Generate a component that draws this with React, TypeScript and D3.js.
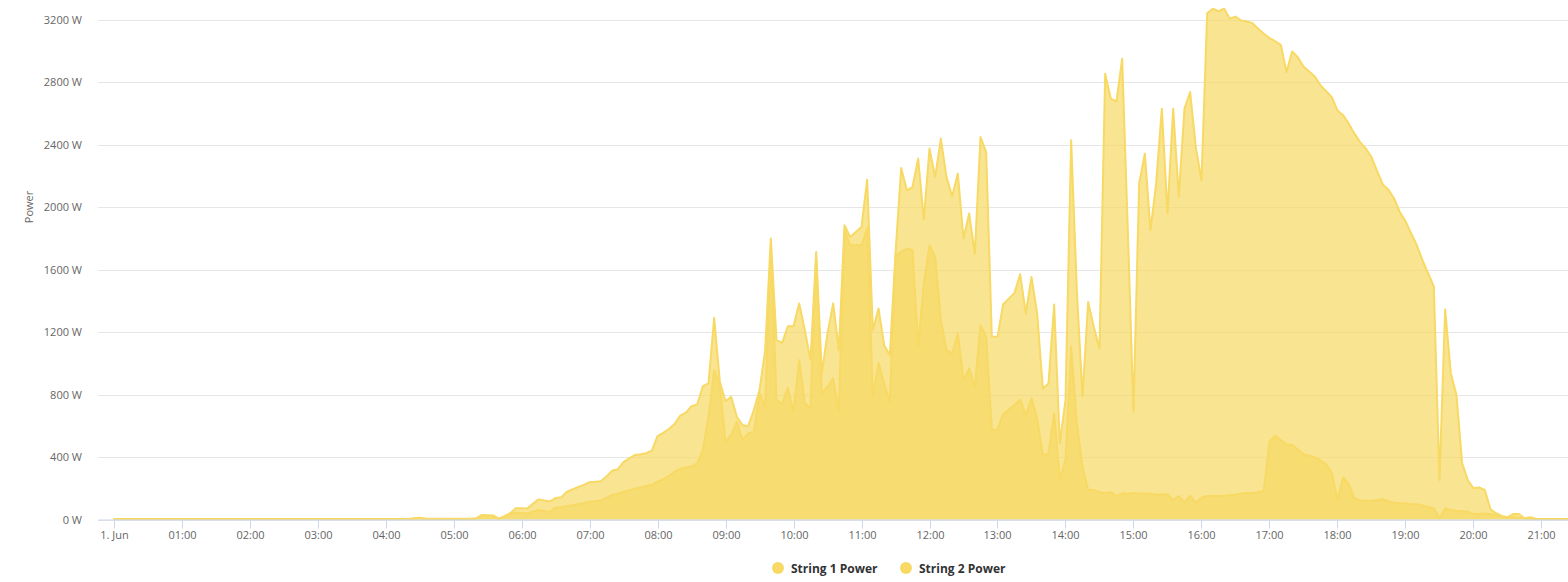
import { useMemo } from "react";
import * as d3 from "d3";

// sample times (local, 1 Jun)
const times = [
  "00:00", "02:00", "04:00", "04:20", "04:25", "04:30", "04:35", "04:40", "05:00", "05:15",
  "05:20", "05:25", "05:30", "05:35", "05:40", "05:45", "05:50", "05:55",
  "06:00", "06:05", "06:10", "06:15", "06:20", "06:25", "06:30", "06:35", "06:40", "06:45", "06:50", "06:55",
  "07:00", "07:05", "07:10", "07:15", "07:20", "07:25", "07:30", "07:35", "07:40", "07:45", "07:50", "07:55",
  "08:00", "08:05", "08:10", "08:15", "08:20", "08:25", "08:30", "08:35", "08:40", "08:45", "08:50", "08:55",
  "09:00", "09:05", "09:10", "09:15", "09:20", "09:25", "09:30", "09:35", "09:40", "09:45", "09:50", "09:55",
  "10:00", "10:05", "10:10", "10:15", "10:20", "10:25", "10:30", "10:35", "10:40", "10:45", "10:50", "10:55",
  "11:00", "11:05", "11:10", "11:15", "11:20", "11:25", "11:30", "11:35", "11:40", "11:45", "11:50", "11:55",
  "12:00", "12:05", "12:10", "12:15", "12:20", "12:25", "12:30", "12:35", "12:40", "12:45", "12:50", "12:55",
  "13:00", "13:05", "13:10", "13:15", "13:20", "13:25", "13:30", "13:35", "13:40", "13:45", "13:50", "13:55",
  "14:00", "14:05", "14:10", "14:15", "14:20", "14:25", "14:30", "14:35", "14:40", "14:45", "14:50", "14:55",
  "15:00", "15:05", "15:10", "15:15", "15:20", "15:25", "15:30", "15:35", "15:40", "15:45", "15:50", "15:55",
  "16:00", "16:05", "16:10", "16:15", "16:20", "16:25", "16:30", "16:35", "16:40", "16:45", "16:50", "16:55",
  "17:00", "17:05", "17:10", "17:15", "17:20", "17:25", "17:30", "17:35", "17:40", "17:45", "17:50", "17:55",
  "18:00", "18:05", "18:10", "18:15", "18:20", "18:25", "18:30", "18:35", "18:40", "18:45", "18:50", "18:55",
  "19:00", "19:05", "19:10", "19:15", "19:20", "19:25", "19:30", "19:35", "19:40", "19:45", "19:50", "19:55",
  "20:00", "20:05", "20:10", "20:15", "20:20", "20:25", "20:30", "20:35", "20:40", "20:45", "20:50", "20:55",
  "21:00", "21:05", "21:10", "21:15", "21:20", "21:25",
];

// String 1 power (W)
const string1 = [
  4, 4, 4, 4, 8, 12, 6, 5, 5, 5,
  8, 29, 28, 26, 5, 22, 40, 72,
  72, 70, 100, 129, 122, 116, 137, 142, 178, 192, 208, 222,
  240, 242, 245, 275, 312, 322, 368, 392, 413, 418, 425, 441,
  534, 555, 580, 611, 665, 684, 726, 737, 854, 872, 1292, 882,
  758, 786, 658, 605, 598, 701, 829, 1085, 1800, 1149, 1132, 1238,
  1238, 1384, 1213, 1021, 1714, 936, 1192, 1384, 1085, 1885, 1810, 1842,
  1874, 2177, 1213, 1352, 1117, 1053, 1704, 2252, 2109, 2130, 2312, 1923,
  2376, 2194, 2440, 2194, 2070, 2216, 1800, 1960, 1704, 2450, 2354, 1170,
  1170, 1379, 1415, 1452, 1571, 1320, 1554, 1320, 840, 872, 1377, 488,
  765, 2429, 1469, 786, 1394, 1234, 1096, 2856, 2696, 2678, 2952, 1850,
  690, 2152, 2344, 1853, 2152, 2632, 1960, 2632, 2070, 2632, 2738, 2386,
  2173, 3243, 3272, 3256, 3272, 3208, 3222, 3197, 3190, 3180, 3144, 3112,
  3084, 3064, 3041, 2866, 2998, 2962, 2902, 2870, 2838, 2781, 2744, 2706,
  2621, 2589, 2536, 2472, 2418, 2376, 2322, 2232, 2147, 2113, 2056, 1970,
  1912, 1832, 1757, 1661, 1576, 1494, 253, 1345, 936, 797, 360, 253,
  200, 205, 189, 65, 40, 23, 14, 35, 35, 8, 14, 5,
  4, 4, 4, 4, 4, 4,
];

// String 2 power (W)
const string2 = [
  3, 3, 3, 3, 5, 8, 4, 3, 3, 3,
  5, 20, 22, 20, 4, 18, 32, 44,
  42, 38, 50, 61, 55, 50, 76, 80, 87, 92, 98, 105,
  114, 117, 121, 138, 157, 165, 178, 188, 197, 205, 215, 222,
  242, 258, 280, 306, 325, 334, 339, 360, 445, 658, 957, 860,
  498, 541, 626, 509, 552, 560, 808, 722, 1760, 765, 743, 843,
  690, 1021, 744, 712, 1680, 808, 850, 904, 690, 1853, 1757, 1757,
  1757, 1864, 786, 1004, 872, 754, 1690, 1714, 1736, 1725, 1106, 1512,
  1757, 1682, 1277, 1085, 1064, 1192, 893, 968, 850, 1245, 1170, 573,
  577, 675, 704, 733, 769, 669, 776, 648, 413, 420, 680, 253,
  381, 1106, 616, 338, 189, 189, 175, 168, 175, 150, 168, 165,
  170, 166, 166, 165, 160, 160, 162, 125, 150, 108, 154, 108,
  140, 150, 150, 150, 152, 156, 158, 165, 170, 172, 175, 185,
  500, 536, 509, 481, 478, 449, 419, 408, 398, 378, 355, 296,
  125, 270, 227, 136, 120, 120, 120, 125, 130, 115, 108, 104,
  104, 98, 98, 90, 80, 72, 8, 72, 61, 56, 53, 50,
  35, 36, 39, 35, 28, 18, 12, 14, 12, 6, 5, 4,
  3, 3, 3, 3, 3, 3,
];

const seriesNames = ["String 1 Power", "String 2 Power"];
const yTicks = [0, 400, 800, 1200, 1600, 2000, 2400, 2800, 3200];
const xTickLabels = [
  "1. Jun", "01:00", "02:00", "03:00", "04:00", "05:00", "06:00", "07:00",
  "08:00", "09:00", "10:00", "11:00", "12:00", "13:00", "14:00", "15:00",
  "16:00", "17:00", "18:00", "19:00", "20:00", "21:00",
];

const W = 1568;
const H = 582;
const plot = { left: 98, right: 1568, top: 20, bottom: 519.5 };
const COLOR = "#f7d964";
const FONT = "'Open Sans', sans-serif";

const toMin = (t: string) => {
  const [h, m] = t.split(":").map(Number);
  return h * 60 + m;
};

export default function App() {
  const x = useMemo(
    () => d3.scaleLinear().domain([-13.7, 1283.4]).range([plot.left, plot.right]),
    []
  );
  const y = useMemo(
    () => d3.scaleLinear().domain([0, 3200]).range([plot.bottom, plot.top]),
    []
  );

  const series = [string1, string2].map((vals) =>
    times.map((t, i) => ({ m: toMin(t), v: vals[i] }))
  );

  const area = d3
    .area<{ m: number; v: number }>()
    .x((d) => x(d.m))
    .y0(y(0))
    .y1((d) => y(d.v));
  const line = d3
    .line<{ m: number; v: number }>()
    .x((d) => x(d.m))
    .y((d) => y(d.v));

  return (
    <svg
      width={W}
      height={H}
      style={{ position: "absolute", left: 0, top: 0, background: "#fff" }}
      fontFamily={FONT}
    >
      <defs>
        <clipPath id="plotClip">
          <rect x={plot.left} y={0} width={plot.right - plot.left} height={plot.bottom + 1} />
        </clipPath>
      </defs>

      {/* grid */}
      {yTicks.map((t) => (
        <line
          key={t}
          x1={plot.left}
          x2={plot.right}
          y1={Math.round(y(t)) + 0.5}
          y2={Math.round(y(t)) + 0.5}
          stroke="#e6e6e6"
          strokeWidth={1}
        />
      ))}

      {/* y labels */}
      {yTicks.map((t) => (
        <text
          key={t}
          x={82}
          y={y(t) + 4}
          textAnchor="end"
          fontSize={11}
          fill="#666666"
        >
          {`${t} W`}
        </text>
      ))}
      <text
        transform={`translate(33, 207) rotate(-90)`}
        textAnchor="middle"
        fontSize={11}
        fill="#666666"
      >
        Power
      </text>

      {/* series */}
      <g clipPath="url(#plotClip)">
        {series.map((s, i) => (
          <g key={i}>
            <path d={area(s) ?? ""} fill={COLOR} fillOpacity={0.7} />
            <path
              d={line(s) ?? ""}
              fill="none"
              stroke={COLOR}
              strokeWidth={2}
              strokeLinejoin="round"
            />
          </g>
        ))}
      </g>

      {/* x axis */}
      <line
        x1={plot.left}
        x2={plot.right}
        y1={plot.bottom + 0.5}
        y2={plot.bottom + 0.5}
        stroke="#ccd6eb"
        strokeWidth={1}
      />
      {xTickLabels.map((lab, i) => {
        const px = Math.round(x(i * 60)) + 0.5;
        return (
          <g key={lab}>
            <line x1={px} x2={px} y1={plot.bottom} y2={plot.bottom + 9} stroke="#ccd6eb" />
            <text x={px} y={539} textAnchor="middle" fontSize={11} fill="#666666">
              {lab}
            </text>
          </g>
        );
      })}

      {/* legend */}
      {seriesNames.map((name, i) => {
        const lx = 778 + i * 128;
        return (
          <g key={name}>
            <circle cx={lx} cy={568} r={6} fill={COLOR} />
            <text x={lx + 13} y={572.5} fontSize={12} fontWeight="bold" fill="#333333">
              {name}
            </text>
          </g>
        );
      })}
    </svg>
  );
}
